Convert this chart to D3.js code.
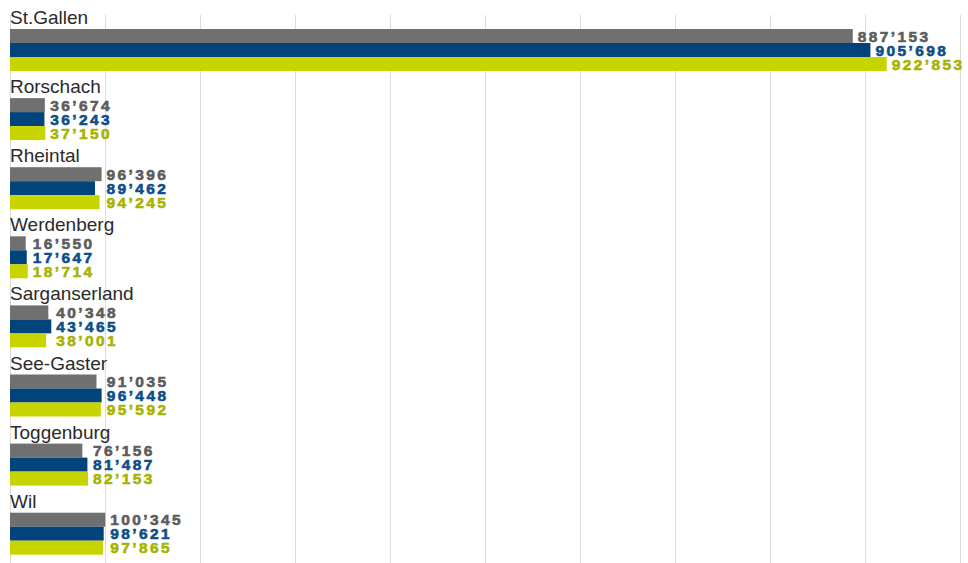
<!DOCTYPE html>
<html>
<head>
<meta charset="utf-8">
<script src="https://cdn.jsdelivr.net/npm/d3@7"></script>
<style>
  html, body { margin: 0; padding: 0; background: #fff; }
  svg { display: block; }
</style>
</head>
<body>
<svg id="chart" width="968" height="563"></svg>
<script>
// Regions of the canton St.Gallen
const regions = ["St.Gallen", "Rorschach", "Rheintal", "Werdenberg", "Sarganserland", "See-Gaster", "Toggenburg", "Wil"];

// Three series per region, drawn top to bottom within each group
const seriesKeys = ["s1", "s2", "s3"];
const series1 = [887153, 36674, 96396, 16550, 40348, 91035, 76156, 100345];
const series2 = [905698, 36243, 89462, 17647, 43465, 96448, 81487, 98621];
const series3 = [922853, 37150, 94245, 18714, 38001, 95592, 82153, 97865];

// Grid positions along the value axis
const gridTicks = [0, 100000, 200000, 300000, 400000, 500000, 600000, 700000, 800000, 900000, 1000000];

const barColors = { s1: "#707070", s2: "#00447b", s3: "#c8d400" };
const textColors = { s1: "#5c5c5c", s2: "#0c4e88", s3: "#a6b400" };

const W = 968, H = 563;
const svg = d3.select("#chart");

const x = d3.scaleLinear().domain([0, 1000000]).range([10, 960]);

const groupStep = 69.1;
const yGroup = d3.scaleBand()
  .domain(regions)
  .range([15, 15 + groupStep * regions.length])
  .padding(0);

const yBar = d3.scaleBand()
  .domain(seriesKeys)
  .range([14, 56])
  .padding(0);

const fmt = d3.formatLocale({ decimal: ".", thousands: "\u2019", grouping: [3], currency: ["", ""] }).format(",d");

// vertical grid lines
svg.append("g")
  .selectAll("line")
  .data(gridTicks)
  .join("line")
  .attr("x1", d => Math.round(x(d)) + 0.5)
  .attr("x2", d => Math.round(x(d)) + 0.5)
  .attr("y1", 15)
  .attr("y2", H)
  .attr("stroke", "#dcdcdc")
  .attr("stroke-width", 1);

const rows = regions.map((r, i) => ({
  region: r,
  values: [
    { key: "s1", value: series1[i] },
    { key: "s2", value: series2[i] },
    { key: "s3", value: series3[i] }
  ]
}));

const groups = svg.append("g")
  .selectAll("g")
  .data(rows)
  .join("g")
  .attr("transform", d => `translate(0,${yGroup(d.region)})`);

// region names
groups.append("text")
  .attr("x", 10)
  .attr("y", 9)
  .attr("font-family", "Liberation Sans, Arial, sans-serif")
  .attr("font-size", 19)
  .attr("fill", "#2a2a2a")
  .text(d => d.region);

// bars
groups.selectAll("rect")
  .data(d => d.values)
  .join("rect")
  .attr("x", x(0))
  .attr("y", d => yBar(d.key))
  .attr("width", d => x(d.value) - x(0))
  .attr("height", yBar.bandwidth())
  .attr("fill", d => barColors[d.key]);

// value labels: aligned after the longest bar when bars are close, else after each bar
groups.each(function (g) {
  const ends = g.values.map(v => x(v.value));
  const maxEnd = d3.max(ends);
  const spread = maxEnd - d3.min(ends);
  d3.select(this).selectAll("text.val")
    .data(g.values)
    .join("text")
    .attr("class", "val")
    .attr("x", d => (spread < 20 ? maxEnd : x(d.value)) + 5)
    .attr("y", d => yBar(d.key) + yBar.bandwidth() / 2 + 5.5)
    .attr("font-family", "Liberation Sans, Arial, sans-serif")
    .attr("font-weight", "bold")
    .attr("font-size", 15.5)
    .attr("letter-spacing", "2.4px")
    .attr("fill", d => textColors[d.key])
    .attr("stroke", d => textColors[d.key])
    .attr("stroke-width", 0.6)
    .text(d => fmt(d.value));
});
</script>
</body>
</html>
